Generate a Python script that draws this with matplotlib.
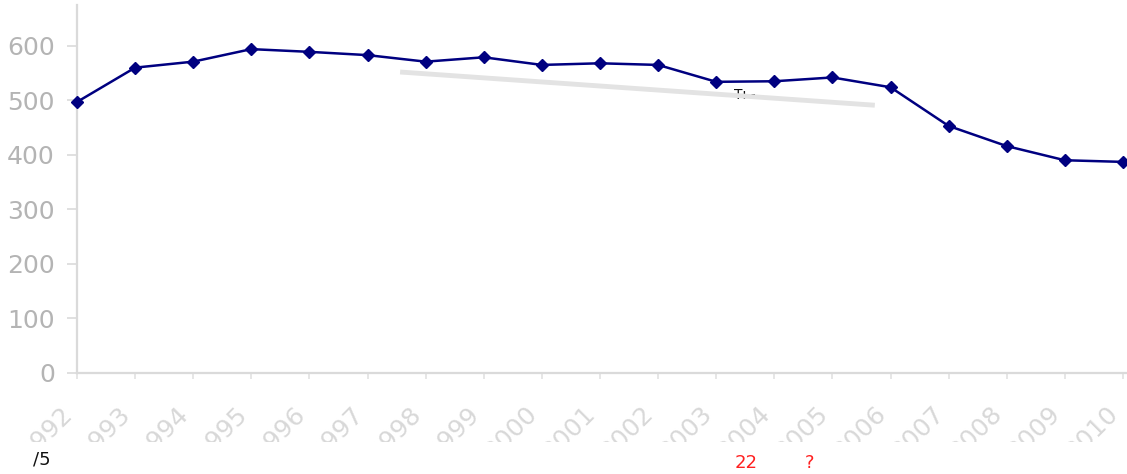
import matplotlib
matplotlib.use('Agg')
import matplotlib.pyplot as plt
from matplotlib.patches import Rectangle

# data
years = list(range(1992, 2011))
values = [497, 560, 571, 594, 589, 583, 571, 579, 565, 568,
          565, 534, 535, 542, 524, 453, 416, 390, 387]
trend_x = [1997.56, 2005.73]
trend_y = [552, 491]
y_ticks = [0, 100, 200, 300, 400, 500, 600]

plt.rcParams['font.family'] = ['DejaVu Sans']

W, H = 1127, 474
fig = plt.figure(figsize=(W / 100, H / 100), dpi=100)
fig.patch.set_facecolor('white')

# axes placed in pixel terms
left, bottom, top, right = 77, 372.7, 5, 1127
ax = fig.add_axes([left / W, (H - bottom) / H, (right - left) / W, (bottom - top) / H])

ax.plot(trend_x, trend_y, color='#e3e3e3', linewidth=3.5, solid_capstyle='butt', zorder=2)
ax.plot(years, values, color='#000080', linewidth=1.8, marker='D', markersize=6.5,
        markerfacecolor='#000080', markeredgecolor='#000080', zorder=3, clip_on=False)
ax.text(2003.3, 502, 'T\u0131 -', fontsize=10, color='#111111', zorder=1)

ax.set_xlim(1992, 2010.07)
ax.set_ylim(0, 675)
ax.set_yticks(y_ticks)
ax.set_yticklabels([str(v) for v in y_ticks])
ax.set_xticks(years)
ax.set_xticklabels([str(y) for y in years], rotation=45, ha='right', va='top')

for s in ['top', 'right']:
    ax.spines[s].set_visible(False)
for s in ['left', 'bottom']:
    ax.spines[s].set_color('#dadada')
    ax.spines[s].set_linewidth(1.6)

ax.tick_params(axis='y', colors='#dadada', labelcolor='#b4b4b4', labelsize=18,
               length=7, width=1.2, pad=9)
ax.tick_params(axis='x', colors='#e2e2e2', labelcolor='#d8d8d8', labelsize=18,
               length=4, width=1.2, pad=17)

# the lower part of the tick labels is cut off in the reference
fig.add_artist(Rectangle((0, 0), 1, (H - 442) / H, transform=fig.transFigure,
                         facecolor='white', edgecolor='none', zorder=5))

# stray marks at the bottom of the reference
fig.text(33 / W, 1 - 465 / H, '/5', fontsize=13, color='#111111', zorder=6)
fig.text(735 / W, 1 - 468 / H, '22', fontsize=13, color='#ff2020', zorder=6)
fig.text(805 / W, 1 - 468 / H, '?', fontsize=13, color='#ff2020', zorder=6)

fig.savefig('out.png', dpi=100, facecolor='white')
